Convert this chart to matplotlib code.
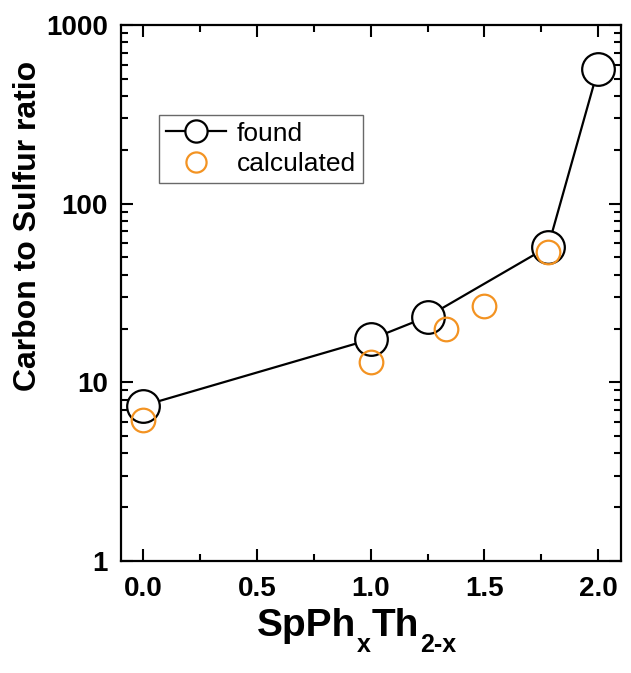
import matplotlib
matplotlib.use('Agg')
import matplotlib.pyplot as plt
from matplotlib.ticker import LogLocator, MultipleLocator, FixedFormatter, FixedLocator

plt.rcParams['font.family'] = ['Liberation Sans', 'DejaVu Sans']

# measured C/S ratio vs composition
x_found = [0.0, 1.0, 1.25, 1.78, 2.0]
cs_found = [7.4, 17.4, 23.3, 57.4, 567]

# values expected from the formula
x_calc = [0.0, 1.0, 1.33, 1.5, 1.78]
cs_calc = [6.15, 13.0, 19.8, 26.8, 53.8]

y_ticks = [1, 10, 100, 1000]
y_ticklabels = ['1', '10', '100', '1000']

# x label pieces: (text, is_subscript)
xlabel_parts = [('SpPh', False), ('x', True), ('Th', False), ('2-x', True)]

orange = '#F39322'

fig = plt.figure(figsize=(6.31, 6.73), dpi=100)
ax = fig.add_axes([0.191, 0.1664, 0.793, 0.7966])

ax.plot(x_found, cs_found, '-o', color='black', lw=1.6, ms=23.5,
        mfc='white', mec='black', mew=1.6, label='found', zorder=3)
ax.plot(x_calc, cs_calc, 'o', ms=17, mfc='none', mec=orange, mew=1.6,
        label='calculated', zorder=4)

ax.set_yscale('log')
ax.set_xlim(-0.1, 2.1)
ax.set_ylim(1, 1000)

ax.xaxis.set_major_locator(MultipleLocator(0.5))
ax.xaxis.set_minor_locator(MultipleLocator(0.25))
ax.xaxis.set_major_formatter(plt.FuncFormatter(lambda v, p: '%.1f' % v))
ax.yaxis.set_major_locator(FixedLocator(y_ticks))
ax.yaxis.set_major_formatter(FixedFormatter(y_ticklabels))
ax.yaxis.set_minor_locator(LogLocator(base=10, subs=range(2, 10)))

ax.tick_params(which='both', direction='in', top=True, right=True, width=1.5,
               labelsize=20)
ax.tick_params(which='major', length=8.5)
ax.tick_params(axis='x', which='major', pad=11)
ax.tick_params(axis='y', which='major', pad=9)
ax.tick_params(which='minor', length=5)
for lab in ax.get_xticklabels() + ax.get_yticklabels():
    lab.set_fontweight('bold')
for sp in ax.spines.values():
    sp.set_linewidth(1.6)

ax.set_ylabel('Carbon to Sulfur ratio', fontsize=23, fontweight='bold')
ax.yaxis.set_label_coords(-0.155, 0.625)

# x label built piece by piece so the subscripts sit low
fig.canvas.draw()
renderer = fig.canvas.get_renderer()
x0, base = 257, 673 - 636
xpos = x0
for txt, sub in xlabel_parts:
    size = 18 if sub else 28
    dy = -16 if sub else 0
    t = fig.text(xpos / 631, (base + dy) / 673, txt, fontsize=size,
                 fontweight='bold', ha='left', va='baseline')
    xpos += t.get_window_extent(renderer).width + 1

leg = ax.legend(loc='upper left', bbox_to_anchor=(0.077, 0.832), borderaxespad=0,
                fontsize=19, fancybox=False, frameon=True, edgecolor='#444444',
                handlelength=2.3, handletextpad=0.4, borderpad=0.25, labelspacing=0.25)
leg.get_frame().set_linewidth(1.0)
leg.legend_handles[0].set_markersize(16)
leg.legend_handles[1].set_markersize(14.5)

fig.savefig('out.png', dpi=100)
